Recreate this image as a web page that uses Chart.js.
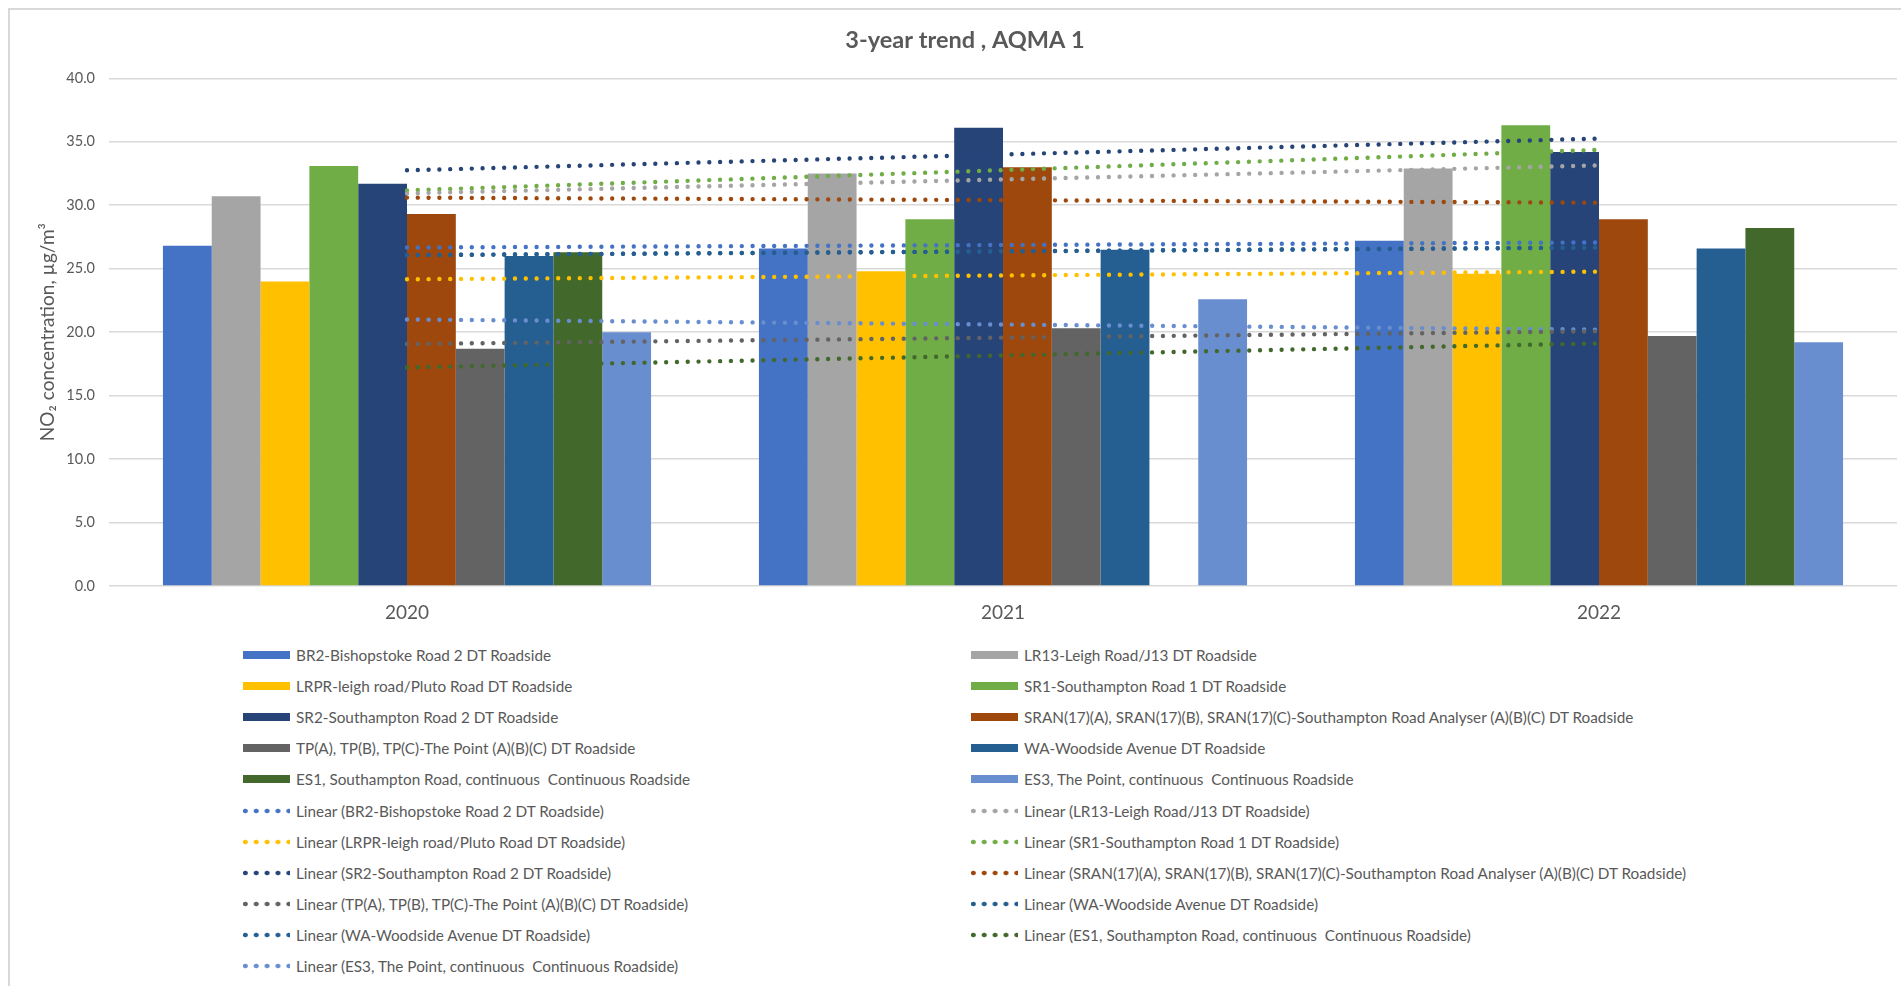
<!DOCTYPE html>
<html>
<head>
<meta charset="utf-8">
<title>3-year trend , AQMA 1</title>
<script src="https://cdn.jsdelivr.net/npm/chart.js@4.4.1/dist/chart.umd.min.js"></script>
<style>
  html, body { margin: 0; padding: 0; background: #fff; width: 1901px; height: 986px; overflow: hidden; }
  #frame { position: absolute; left: 8px; top: 8px; width: 1930px; height: 1000px; border: 2px solid #d9d9d9; box-sizing: border-box; }
  #chart { position: absolute; left: 0; top: 0; }
  #legend { position: absolute; left: 243px; top: 639px; display: grid;
            grid-template-columns: 728px 728px; grid-auto-rows: 31.2px;
            font-family: Lato, sans-serif; font-size: 15.3px; color: #595959; }
  .item { display: flex; align-items: center; white-space: pre; }
  .sw { width: 47px; height: 8px; margin-right: 6px; flex: none; }
  .dots { height: 8px; background-repeat: repeat-x; background-size: 10.9px 8px; background-position: -3.15px center; }
</style>
</head>
<body>
<div id="frame"></div>
<canvas id="chart" width="1901" height="624"></canvas>
<div id="legend"></div>
<script>
// Annual mean NO2 (µg/m³) per monitoring site
const years = ['2020', '2021', '2022'];
const br2  = [26.8, 26.6, 27.2];
const lr13 = [30.7, 32.5, 32.9];
const lrpr = [24.0, 24.8, 24.6];
const sr1  = [33.1, 28.9, 36.3];
const sr2  = [31.7, 36.1, 34.2];
const sran = [29.3, 33.0, 28.9];
const tp   = [18.7, 20.3, 19.7];
const wa   = [26.0, 26.5, 26.6];
const es1  = [26.3, null, 28.2];
const es3  = [20.0, 22.6, 19.2];

const siteNames = [
  'BR2-Bishopstoke Road 2 DT Roadside',
  'LR13-Leigh Road/J13 DT Roadside',
  'LRPR-leigh road/Pluto Road DT Roadside',
  'SR1-Southampton Road 1 DT Roadside',
  'SR2-Southampton Road 2 DT Roadside',
  'SRAN(17)(A), SRAN(17)(B), SRAN(17)(C)-Southampton Road Analyser (A)(B)(C) DT Roadside',
  'TP(A), TP(B), TP(C)-The Point (A)(B)(C) DT Roadside',
  'WA-Woodside Avenue DT Roadside',
  'ES1, Southampton Road, continuous  Continuous Roadside',
  'ES3, The Point, continuous  Continuous Roadside'
];
const siteValues = [br2, lr13, lrpr, sr1, sr2, sran, tp, wa, es1, es3];
const siteColors = ['#4472C4', '#A5A5A5', '#FFC000', '#70AD47', '#264478',
                    '#9E480E', '#636363', '#255E91', '#43682B', '#698ED0'];
// Sites carrying a linear trend line, in legend order (Woodside Avenue has two)
const trendSites = [0, 1, 2, 3, 4, 5, 6, 7, 7, 8, 9];

// Least-squares straight line through x = 1..n; blank cells count as zero
function linearFit(values) {
  const ys = values.map(v => (v == null ? 0 : v));
  const n = ys.length;
  const xs = ys.map((_, i) => i + 1);
  const mx = xs.reduce((a, b) => a + b, 0) / n;
  const my = ys.reduce((a, b) => a + b, 0) / n;
  let sxy = 0, sxx = 0;
  xs.forEach((x, i) => { sxy += (x - mx) * (ys[i] - my); sxx += (x - mx) * (x - mx); });
  const slope = sxy / sxx;
  return xs.map(x => my + slope * (x - mx));
}

const barSets = siteNames.map((name, i) => ({
  type: 'bar',
  label: name,
  data: siteValues[i],
  backgroundColor: siteColors[i],
  borderWidth: 0,
  categoryPercentage: 0.819,
  barPercentage: 1,
  order: 1
}));

const trendSets = trendSites.map(i => ({
  type: 'line',
  label: 'Linear (' + siteNames[i] + ')',
  data: linearFit(siteValues[i]),
  borderColor: siteColors[i],
  backgroundColor: siteColors[i],
  borderWidth: 4.4,
  borderDash: [0, 10.8],
  borderCapStyle: 'round',
  pointRadius: 0,
  pointHoverRadius: 0,
  tension: 0,
  fill: false,
  order: 0
}));

const grey = '#595959';

function draw() {
  const chart = new Chart(document.getElementById('chart'), {
    type: 'bar',
    data: { labels: years, datasets: [...barSets, ...trendSets] },
    options: {
      responsive: false,
      animation: false,
      devicePixelRatio: 1,
      layout: { padding: { left: 33, right: 4, top: 0, bottom: 0 } },
      plugins: {
        legend: { display: false },
        tooltip: { enabled: false },
        title: {
          display: true,
          text: '3-year trend , AQMA 1',
          color: grey,
          font: { family: 'Lato', size: 23.5, weight: 'bold', lineHeight: 1.2 },
          padding: { top: 26, bottom: 24.1 }
        }
      },
      scales: {
        x: {
          afterFit: s => { s.height = 38; },
          grid: { display: false, drawTicks: false, tickLength: 0 },
          border: { display: false },
          ticks: { color: grey, font: { family: 'Lato', size: 19 }, padding: 15 }
        },
        y: {
          min: 0,
          max: 40,
          afterFit: s => { s.width = 76; },
          ticks: {
            stepSize: 5,
            color: grey,
            padding: 14,
            font: { family: 'Lato', size: 14.5 },
            callback: v => Number(v).toFixed(1)
          },
          grid: { color: '#d9d9d9', lineWidth: 1.5, drawTicks: false },
          border: { display: false },
          title: {
            display: true,
            text: 'NO₂ concentration, µg/m³',
            color: grey,
            font: { family: 'Lato', size: 19, lineHeight: 1.2 },
            padding: { top: 3.6, bottom: 0 }
          }
        }
      }
    }
  });

  // Two-column legend built from the chart's datasets
  const legend = document.getElementById('legend');
  chart.data.datasets.forEach(ds => {
    const item = document.createElement('div');
    item.className = 'item';
    const sw = document.createElement('span');
    if (ds.type === 'line') {
      sw.className = 'sw dots';
      sw.style.backgroundImage = 'radial-gradient(circle, ' + ds.borderColor + ' 2.1px, rgba(255,255,255,0) 2.7px)';
    } else {
      sw.className = 'sw';
      sw.style.background = ds.backgroundColor;
    }
    const txt = document.createElement('span');
    txt.textContent = ds.label;
    item.appendChild(sw);
    item.appendChild(txt);
    legend.appendChild(item);
  });
}

Promise.all([
  document.fonts.load('bold 23.5px Lato'),
  document.fonts.load('19px Lato')
]).then(draw, draw);
</script>
</body>
</html>
